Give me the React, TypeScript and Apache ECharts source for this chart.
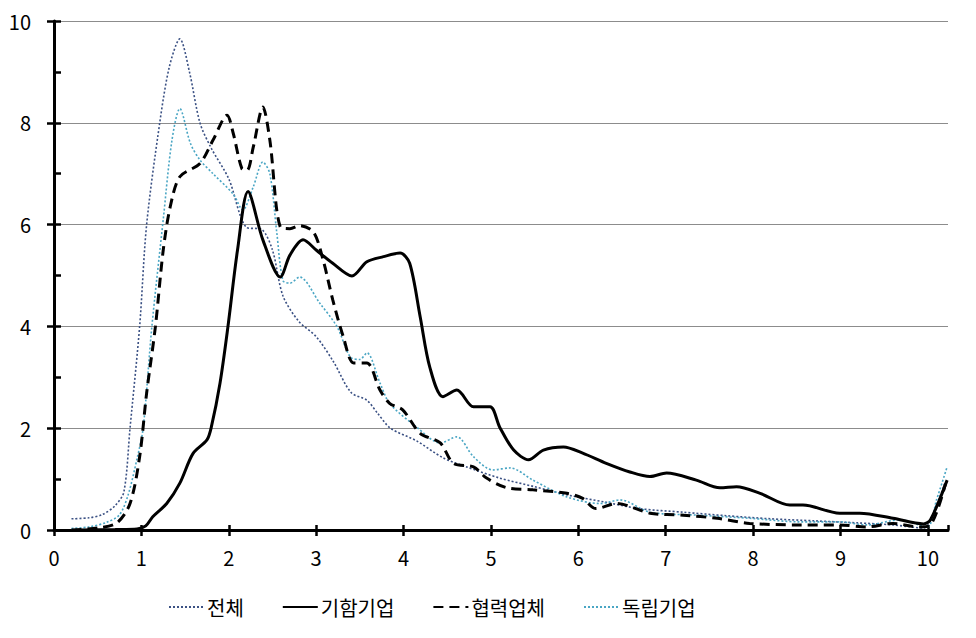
import React, { useEffect, useRef } from "react";
import * as echarts from "echarts";

const seriesNames = ["전체", "기함기업", "협력업체", "독립기업"];

const totalData = [
  [0.2, 0.22], [0.4, 0.24], [0.55, 0.3], [0.7, 0.48], [0.8, 0.75], [0.87, 2.0], [0.98, 4.0],
  [1.06, 6.0], [1.21, 8.0], [1.32, 9.1], [1.44, 9.65], [1.55, 9.0], [1.67, 8.0], [1.8, 7.5],
  [2.0, 6.9], [2.2, 5.95], [2.38, 5.9], [2.5, 5.5], [2.62, 4.6], [2.8, 4.1], [3.0, 3.8],
  [3.2, 3.3], [3.4, 2.7], [3.58, 2.55], [3.7, 2.3], [3.85, 2.0], [4.15, 1.75], [4.45, 1.42],
  [4.72, 1.24], [5.1, 1.02], [5.5, 0.85], [5.9, 0.68], [6.3, 0.55], [6.7, 0.42], [7.2, 0.35],
  [7.7, 0.28], [8.2, 0.22], [8.7, 0.18], [9.2, 0.14], [9.6, 0.1], [9.95, 0.04], [10.1, 0.5],
  [10.2, 0.95],
];

const flagshipData = [
  [0.3, 0], [0.7, 0.01], [0.95, 0.02], [1.05, 0.08], [1.13, 0.26], [1.29, 0.52], [1.44, 0.92],
  [1.59, 1.5], [1.75, 1.77], [1.8, 2.02], [1.9, 2.89], [1.99, 3.99], [2.1, 5.5], [2.22, 6.65],
  [2.39, 5.7], [2.59, 4.97], [2.7, 5.4], [2.85, 5.7], [3.0, 5.5], [3.19, 5.24], [3.41, 4.99],
  [3.58, 5.27], [3.77, 5.37], [3.96, 5.44], [4.07, 5.24], [4.19, 4.19], [4.3, 3.2], [4.45, 2.62],
  [4.61, 2.75], [4.8, 2.42], [4.99, 2.42], [5.1, 2.02], [5.26, 1.57], [5.43, 1.38], [5.6, 1.57],
  [5.83, 1.63], [6.05, 1.51], [6.32, 1.31], [6.59, 1.14], [6.82, 1.05], [7.01, 1.12], [7.35, 0.98],
  [7.62, 0.83], [7.81, 0.85], [8.08, 0.72], [8.42, 0.49], [8.57, 0.49], [8.99, 0.33], [9.22, 0.33],
  [9.6, 0.23], [9.95, 0.12], [10.03, 0.2], [10.22, 0.98],
];

const partnerData = [
  [0.2, 0.0], [0.5, 0.04], [0.72, 0.14], [0.87, 0.52], [0.98, 1.44], [1.06, 2.69], [1.16, 3.99],
  [1.25, 5.5], [1.33, 6.35], [1.44, 6.94], [1.67, 7.2], [1.82, 7.66], [1.98, 8.15], [2.05, 7.8],
  [2.15, 7.1], [2.21, 7.07], [2.28, 7.52], [2.39, 8.31], [2.47, 7.66], [2.59, 5.95], [2.7, 5.92],
  [2.81, 5.98], [2.97, 5.85], [3.08, 5.3], [3.19, 4.52], [3.31, 3.8], [3.43, 3.28], [3.58, 3.28],
  [3.73, 2.75], [3.84, 2.49], [3.99, 2.36], [4.19, 1.9], [4.42, 1.71], [4.57, 1.31], [4.8, 1.24],
  [4.95, 1.02], [5.18, 0.83], [5.48, 0.79], [5.87, 0.72], [6.05, 0.62], [6.2, 0.42], [6.44, 0.52],
  [6.82, 0.33], [7.2, 0.29], [7.59, 0.23], [7.96, 0.13], [8.54, 0.1], [8.99, 0.1], [9.3, 0.06],
  [9.6, 0.13], [9.9, 0.06], [10.03, 0.1], [10.2, 0.9],
];

const independentData = [
  [0.2, 0.03], [0.4, 0.06], [0.6, 0.15], [0.75, 0.3], [0.85, 0.7], [0.95, 1.4], [1.02, 2.0],
  [1.12, 4.0], [1.25, 6.1], [1.35, 7.66], [1.44, 8.28], [1.56, 7.6], [1.67, 7.27], [1.82, 7.0],
  [2.05, 6.6], [2.16, 6.29], [2.28, 6.74], [2.39, 7.23], [2.47, 7.0], [2.55, 5.83], [2.62, 4.9],
  [2.7, 4.85], [2.81, 4.97], [3.04, 4.46], [3.24, 3.99], [3.39, 3.4], [3.5, 3.35], [3.58, 3.48],
  [3.73, 2.89], [3.84, 2.49], [4.15, 2.02], [4.42, 1.71], [4.61, 1.83], [4.8, 1.44], [5.02, 1.18],
  [5.22, 1.22], [5.48, 0.98], [5.87, 0.65], [6.25, 0.52], [6.48, 0.59], [6.82, 0.35], [7.39, 0.29],
  [7.96, 0.23], [8.54, 0.16], [8.99, 0.16], [9.3, 0.1], [9.68, 0.2], [9.99, 0.06], [10.1, 0.6],
  [10.22, 1.24],
];

const FONT = "'Noto Sans CJK KR', 'Noto Sans', sans-serif";

export default function App() {
  const ref = useRef<HTMLDivElement>(null);
  useEffect(() => {
    if (!ref.current) return;
    const chart = echarts.init(ref.current, null, { renderer: "svg" });
    const axisLine = { show: true, lineStyle: { color: "#000", width: 3 } };
    const tickStyle = { color: "#000", width: 2.5 };
    chart.setOption({
      animation: false,
      backgroundColor: "#fff",
      grid: { left: 46, top: 13, right: 20, bottom: 100, containLabel: false, outerBoundsMode: "none" },
      xAxis: [
        {
          type: "value", min: 0, max: 10.23, interval: 1,
          axisLine,
          axisTick: { show: true, length: 6, lineStyle: tickStyle },
          axisLabel: { show: true, showMaxLabel: false, margin: 17, fontSize: 20, color: "#000", fontFamily: FONT },
          splitLine: { show: false },
        },
        {
          type: "value", min: 0, max: 10.23, interval: 1, position: "bottom",
          axisLine: { show: false },
          axisTick: { show: true, inside: true, length: 5, lineStyle: tickStyle },
          axisLabel: { show: false },
          splitLine: { show: false },
        },
      ],
      yAxis: [
        {
          type: "value", min: 0, max: 10, interval: 2,
          axisLine,
          axisTick: { show: true, length: 7, lineStyle: tickStyle },
          axisLabel: { margin: 23, fontSize: 20, color: "#000", fontFamily: FONT },
          splitLine: { show: true, lineStyle: { color: "#8c8c8c", width: 1 } },
        },
        {
          type: "value", min: 0, max: 10, interval: 1, position: "left",
          axisLine: { show: false },
          axisTick: { show: true, inside: true, length: 7, lineStyle: tickStyle },
          axisLabel: { show: false },
          splitLine: { show: false },
        },
      ],
      legend: {
        bottom: 8,
        left: 155,
        itemGap: 38,
        itemWidth: 35,
        itemHeight: 14,
        itemStyle: { opacity: 0 },
        textStyle: { fontSize: 20, color: "#000", fontFamily: FONT, padding: [0, 0, 0, -2] },
        data: seriesNames,
      },
      series: [
        {
          name: seriesNames[0], type: "line", data: totalData, smooth: 0.3, showSymbol: false, symbol: "none",
          lineStyle: { color: "#3b5184", width: 1.6, type: [2, 2] }, itemStyle: { color: "#3b5184" }, z: 3,
        },
        {
          name: seriesNames[1], type: "line", data: flagshipData, smooth: 0.3, showSymbol: false, symbol: "none",
          lineStyle: { color: "#000", width: 3, type: "solid" }, itemStyle: { color: "#000" }, z: 4,
        },
        {
          name: seriesNames[2], type: "line", data: partnerData, smooth: 0.3, showSymbol: false, symbol: "none",
          lineStyle: { color: "#000", width: 3, type: [10, 6] }, itemStyle: { color: "#000" }, z: 4,
        },
        {
          name: seriesNames[3], type: "line", data: independentData, smooth: 0.3, showSymbol: false, symbol: "none",
          lineStyle: { color: "#4aa6c4", width: 1.6, type: [2, 2] }, itemStyle: { color: "#4aa6c4" }, z: 3,
        },
      ],
    });
    return () => chart.dispose();
  }, []);
  return <div ref={ref} style={{ width: 960, height: 622 }} />;
}
